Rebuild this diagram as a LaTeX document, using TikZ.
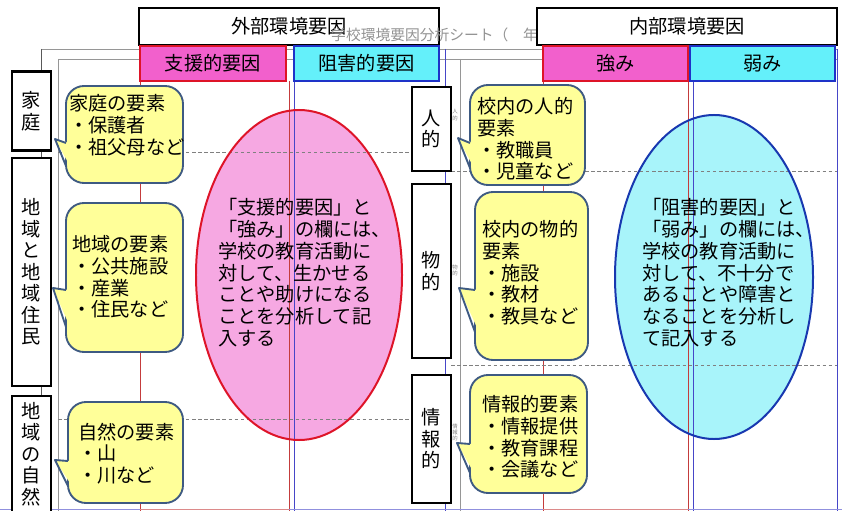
\documentclass[tikz,border=0pt]{standalone}
\usepackage{fontspec}
\setmainfont{Noto Sans CJK JP}
\definecolor{hdrpink}{RGB}{242,96,204}
\definecolor{hdrcyan}{RGB}{100,240,250}
\definecolor{elpink}{RGB}{246,168,226}
\definecolor{elcyan}{RGB}{168,244,250}
\definecolor{cyell}{RGB}{255,255,153}
\definecolor{cedge}{RGB}{62,90,130}
\definecolor{redln}{RGB}{222,20,40}
\definecolor{blueln}{RGB}{30,50,200}
\definecolor{ellblue}{RGB}{24,56,176}
\definecolor{colred}{RGB}{196,60,60}
\definecolor{colblue}{RGB}{70,70,200}
\definecolor{sheetgray}{RGB}{150,150,150}
\newcommand{\mycallout}[8]{%
  \draw[cbody] (#1,#2) rectangle (#3,#4);
  \fill[cyell] (#1+4,#7) -- (#5,#6) -- (#1+4,#8) -- cycle;
  \draw[cwedgeedge] (#1,#7) -- (#5,#6) -- (#1,#8);
}
\begin{document}
\begin{tikzpicture}[x=0.03cm,y=-0.03cm,
  hdrbox/.style={draw=black,line width=2pt,fill=white,inner sep=0pt,minimum width=9cm,minimum height=1.11cm,font=\fontsize{16.4}{18.5}\selectfont},
  pinkhdr/.style={draw=redln,line width=2pt,fill=hdrpink,inner sep=0pt,minimum height=1.05cm,font=\fontsize{16.4}{18.5}\selectfont},
  cyanhdr/.style={draw=blueln,line width=2pt,fill=hdrcyan,inner sep=0pt,minimum height=1.05cm,font=\fontsize{16.4}{18.5}\selectfont},
  sidebox/.style={draw=black,line width=2.2pt,fill=white,inner sep=0pt,minimum width=1.17cm,align=center,font=\fontsize{16.4}{18.35}\selectfont},
  cbody/.style={draw=cedge,line width=1.6pt,fill=cyell,rounded corners=0.54cm},
  cwedgeedge/.style={draw=cedge,line width=1.6pt,line join=round},
  ctext/.style={inner sep=0pt,anchor=north west,align=left,font=\fontsize{16.4}{18.4}\selectfont},
  etext/.style={inner sep=0pt,anchor=north west,align=left,font=\fontsize{16.4}{18.5}\selectfont},
  wmark/.style={inner sep=0pt,anchor=west,text=gray!85,font=\fontsize{12.6}{14}\selectfont},
  tinylbl/.style={inner sep=0pt,align=center,text=gray,font=\fontsize{4.6}{5.2}\selectfont},
  sheetln/.style={draw=sheetgray,line width=0.6pt},
  darkln/.style={draw=gray!70!black,line width=0.8pt},
  sheetblue/.style={draw=colblue,line width=0.8pt},
  colredln/.style={draw=colred,line width=0.8pt},
  colblueln/.style={draw=colblue,line width=0.8pt},
  dashln/.style={draw=gray,line width=0.6pt,dash pattern=on 3pt off 2.2pt}
]
\useasboundingbox (0,0) rectangle (842,511);
\fill[white] (0,0) rectangle (842,511);
% ellipse fills
\fill[elpink] (299,275) ellipse [x radius=3.09cm, y radius=4.95cm];
\fill[elcyan] (714,277) ellipse [x radius=2.97cm, y radius=4.86cm];
% worksheet lines
\draw[sheetln] (41,49) -- (837,49);
\draw[sheetln] (58,59) -- (837,59);
\draw[darkln] (41,49) -- (41,515);
\draw[sheetln] (58,59) -- (58,515);
\draw[sheetln] (460,59) -- (460,515);
\draw[sheetblue] (445,49) -- (445,515);
\draw[sheetblue] (837,49) -- (837,515);
\draw[colredln] (140,81) -- (140,515);
\draw[colredln] (289,81) -- (289,515);
\draw[colblueln] (294,81) -- (294,515);
\draw[colredln] (543,81) -- (543,515);
\draw[colredln] (688,81) -- (688,515);
\draw[colblueln] (693,81) -- (693,515);
\draw[dashln] (58,152) -- (445,152);
\draw[dashln] (58,419) -- (445,419);
\draw[dashln] (451,171) -- (837,171);
\draw[dashln] (451,365) -- (837,365);
\draw[draw=colblue!60,line width=1pt] (0,509.5) -- (842,509.5);
\draw[draw=colred!60,line width=1pt] (140,509.5) -- (289,509.5);
\draw[draw=colred!60,line width=1pt] (543,509.5) -- (688,509.5);
% ellipse borders
\draw[redln,line width=1.7pt] (299,275) ellipse [x radius=3.09cm, y radius=4.95cm];
\draw[ellblue,line width=1.7pt] (714,277) ellipse [x radius=2.97cm, y radius=4.86cm];
% top headers
\node[hdrbox] (ext) at (289,26.5) {外部環境要因};
\node[wmark] (wm) at (331,35) {学校環境要因分析シート（　年）};
\node[hdrbox] (int) at (687,26.5) {内部環境要因};
\node[pinkhdr,minimum width=4.38cm] (sup) at (213,63.5) {支援的要因};
\node[cyanhdr,minimum width=4.35cm] (hin) at (366.5,63.5) {阻害的要因};
\node[pinkhdr,minimum width=4.35cm] (str) at (615.5,63.5) {強み};
\node[cyanhdr,minimum width=4.35cm] (wea) at (762.5,63.5) {弱み};
% side label boxes
\node[sidebox,minimum height=2.37cm] (home) at (31.5,111) {家\\庭};
\node[sidebox,minimum height=6.84cm] (comm) at (31.5,272) {地\\域\\と\\地\\域\\住\\民};
\node[sidebox,minimum height=3.48cm] (natr) at (31.5,454) {地\\域\\の\\自\\然};
\node[sidebox,minimum height=2.52cm] (hum) at (431.5,129) {人\\的};
\node[sidebox,minimum height=5.22cm] (phy) at (431.5,271) {物\\的};
\node[sidebox,minimum height=3.84cm] (inf) at (431.5,439) {情\\報\\的};
\node[tinylbl] (s1) at (455,115) {人\\的};
\node[tinylbl] (s2) at (455,270) {物\\的};
\node[tinylbl] (s3) at (455,432) {情\\報\\的};
% callouts
\mycallout{66}{86}{183}{183}{55}{139}{143}{166}
\mycallout{66}{203}{183}{352}{53}{288}{290}{327}
\mycallout{68}{402}{183}{503}{55}{460}{461}{486}
\mycallout{470}{85}{585}{185}{458}{138}{143}{168}
\mycallout{475}{192}{588}{360}{459}{288}{290}{332}
\mycallout{470}{375}{587}{493}{457}{443}{444}{473}
\node[ctext] (c1) at (69,94.5) {家庭の要素\\・保護者\\・祖父母など};
\node[ctext] (c2) at (72,235.5) {地域の要素\\・公共施設\\・産業\\・住民など};
\node[ctext] (c3) at (78,422.5) {自然の要素\\・山\\・川など};
\node[ctext] (c4) at (477,97.5) {校内の人的\\要素\\・教職員\\・児童など};
\node[ctext] (c5) at (482,220.5) {校内の物的\\要素\\・施設\\・教材\\・教具など};
\node[ctext] (c6) at (482,395.5) {情報的要素\\・情報提供\\・教育課程\\・会議など};
% ellipse texts
\node[etext] (e1) at (218,198.5) {「支援的要因」と\\「強み」の欄には、\\学校の教育活動に\\対して、生かせる\\ことや助けになる\\ことを分析して記\\入する};
\node[etext] (e2) at (642,198.5) {「阻害的要因」と\\「弱み」の欄には、\\学校の教育活動に\\対して、不十分で\\あることや障害と\\なることを分析し\\て記入する};
\end{tikzpicture}
\end{document}
